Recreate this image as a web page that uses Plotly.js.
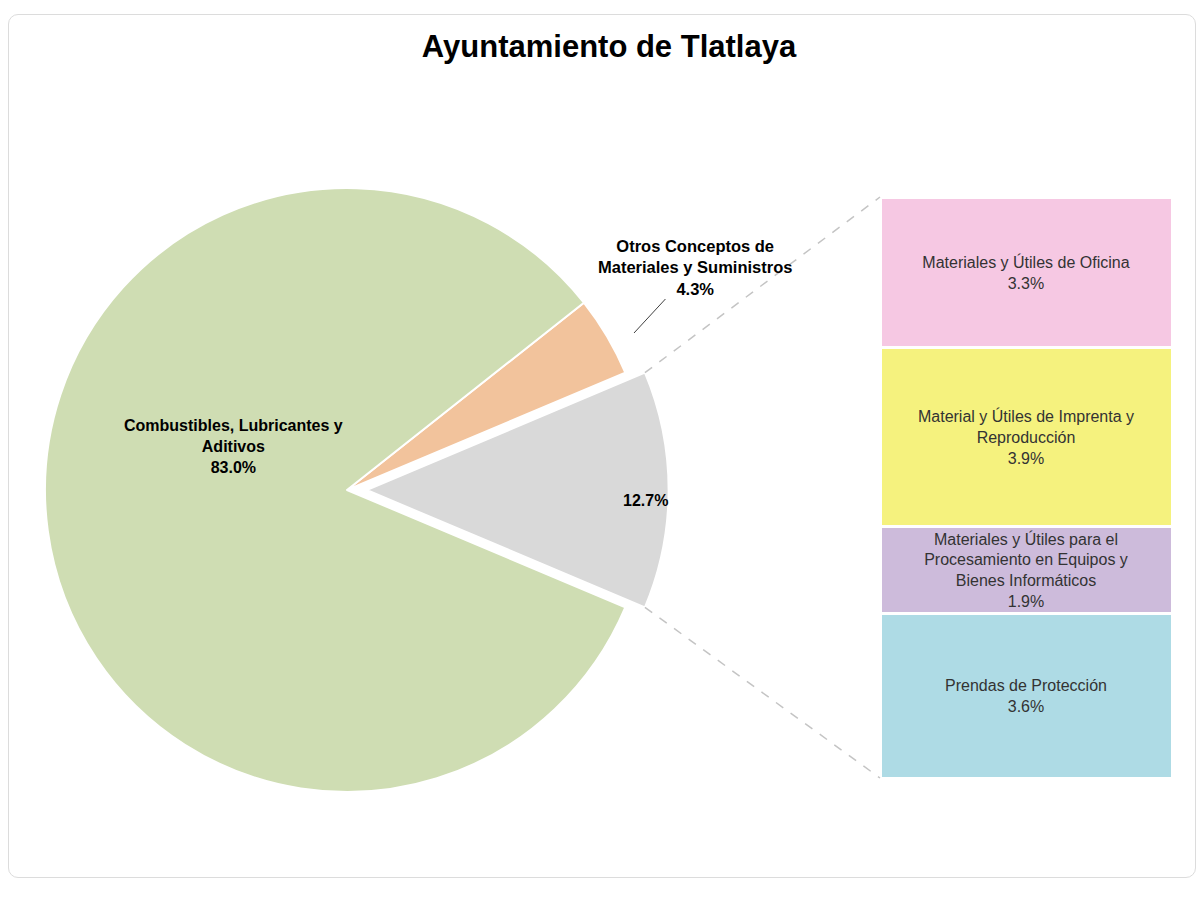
<!DOCTYPE html>
<html>
<head>
<meta charset="utf-8">
<script src="https://cdn.plot.ly/plotly-3.0.1.min.js"></script>
<style>
  html, body { margin: 0; padding: 0; background: #fff; }
  #frame { position: absolute; left: 8px; top: 14px; width: 1186px; height: 862px;
           border: 1px solid #dcdcdc; border-radius: 10px; }
  #chart { position: absolute; left: 0; top: 0; width: 1203px; height: 903px; }
</style>
</head>
<body>
<div id="frame"></div>
<div id="chart"></div>
<script>
//------------------------------------------------------------
// Pie-of-bar: Ayuntamiento de Tlatlaya
//------------------------------------------------------------

// Main pie slices (the third slice is the sum of the bar breakdown)
const pieLabels = ["Combustibles, Lubricantes y<br>Aditivos", "Otros Conceptos de<br>Materiales y Suministros"];
const pieValues = [83.0, 4.3];

// Breakdown shown in the bar, top to bottom
const barLabels = [
  "Materiales y Útiles de Oficina",
  "Material y Útiles de Imprenta y<br>Reproducción",
  "Materiales y Útiles para el<br>Procesamiento en Equipos y<br>Bienes Informáticos",
  "Prendas de Protección"
];
const barValues = [3.3, 3.9, 1.9, 3.6];

const barColors = ["#F6C8E3", "#F5F27E", "#CDBBDB", "#AEDBE5"];
const pieColors = { other: "#D9D9D9", otros: "#F2C39C", comb: "#CFDDB3" };

const otherTotal = +barValues.reduce((a, b) => a + b, 0).toFixed(1);
const pct = v => v.toFixed(1) + "%";

// Page geometry (pixels; margins are zero so paper = page)
const W = 1203, H = 903;
const px = x => x / W;
const py = y => 1 - y / H;

const pieCx = 347, pieCy = 490, pieR = 302, pull = 0.065;
const pieBox = 2 * pieR * (1 + pull);
const barLeft = 880, barRight = 1172, barTop = 197, barBottom = 778;

const font = "Liberation Sans, Arial, sans-serif";

// Pie trace
const pie = {
  type: "pie",
  values: [otherTotal, pieValues[1], pieValues[0]],
  labels: ["Otros", pieLabels[1], pieLabels[0]],
  marker: {
    colors: [pieColors.other, pieColors.otros, pieColors.comb],
    line: { color: "#ffffff", width: 2 }
  },
  sort: false,
  direction: "counterclockwise",
  rotation: 90 - otherTotal / 100 * 180,
  pull: [pull, 0, 0],
  textinfo: "none",
  hoverinfo: "skip",
  showlegend: false,
  domain: {
    x: [px(pieCx - pieBox / 2), px(pieCx + pieBox / 2)],
    y: [py(pieCy + pieBox / 2), py(pieCy - pieBox / 2)]
  }
};

// Stacked bar traces (bottom first)
const barTraces = barValues.map((v, i) => ({
  type: "bar",
  x: [0],
  y: [v],
  width: [1],
  text: [barLabels[i] + "<br>" + pct(v)],
  textposition: "inside",
  insidetextanchor: "middle",
  textangle: 0,
  constraintext: "none",
  textfont: { family: font, size: 16, color: "#333333" },
  marker: { color: barColors[i], line: { color: "#ffffff", width: 3 } },
  hoverinfo: "skip",
  showlegend: false,
  xaxis: "x",
  yaxis: "y"
})).reverse();

// Dashed connectors from the pulled slice to the bar corners
const halfAng = otherTotal / 100 * Math.PI;
const gx = pieCx + pull * pieR;
const edgeTop = [gx + pieR * Math.cos(halfAng), pieCy - pieR * Math.sin(halfAng)];
const edgeBot = [gx + pieR * Math.cos(halfAng), pieCy + pieR * Math.sin(halfAng)];
const connector = (a, b) => ({
  type: "line", xref: "paper", yref: "paper",
  x0: px(a[0]), y0: py(a[1]), x1: px(b[0]), y1: py(b[1]),
  line: { color: "#c4c4c4", width: 1.5, dash: "dash" }
});

const layout = {
  width: W,
  height: H,
  margin: { l: 0, r: 0, t: 0, b: 0 },
  paper_bgcolor: "rgba(0,0,0,0)",
  plot_bgcolor: "rgba(0,0,0,0)",
  title: {
    text: "<b>Ayuntamiento de Tlatlaya</b>",
    x: px(609), xanchor: "center",
    y: py(46), yanchor: "middle",
    font: { family: font, size: 31, color: "#000000" }
  },
  barmode: "stack",
  bargap: 0,
  xaxis: { domain: [px(barLeft), px(barRight)], range: [-0.5, 0.5], visible: false, fixedrange: true },
  yaxis: { domain: [py(barBottom), py(barTop)], range: [0, otherTotal], visible: false, fixedrange: true },
  shapes: [
    connector(edgeTop, [barLeft, barTop]),
    connector(edgeBot, [barLeft, barBottom])
  ],
  annotations: [
    {
      text: "<b>" + pieLabels[0] + "<br>" + pct(pieValues[0]) + "</b>",
      xref: "paper", yref: "paper", x: px(233), y: py(446),
      xanchor: "center", yanchor: "middle",
      showarrow: false, font: { family: font, size: 16, color: "#000000" }
    },
    {
      text: "<b>" + pct(otherTotal) + "</b>",
      xref: "paper", yref: "paper", x: px(645), y: py(500),
      xanchor: "center", yanchor: "middle",
      showarrow: false, font: { family: font, size: 16, color: "#000000" }
    },
    {
      text: "<b>" + pieLabels[1] + "<br>" + pct(pieValues[1]) + "</b>",
      xref: "paper", yref: "paper", x: px(634), y: py(333),
      showarrow: true, arrowhead: 0, arrowwidth: 1, arrowcolor: "#404040",
      ax: 61, ay: -66,
      font: { family: font, size: 16.5, color: "#000000" }
    }
  ]
};

Plotly.newPlot("chart", [pie, ...barTraces], layout, { displayModeBar: false, staticPlot: true });
</script>
</body>
</html>
